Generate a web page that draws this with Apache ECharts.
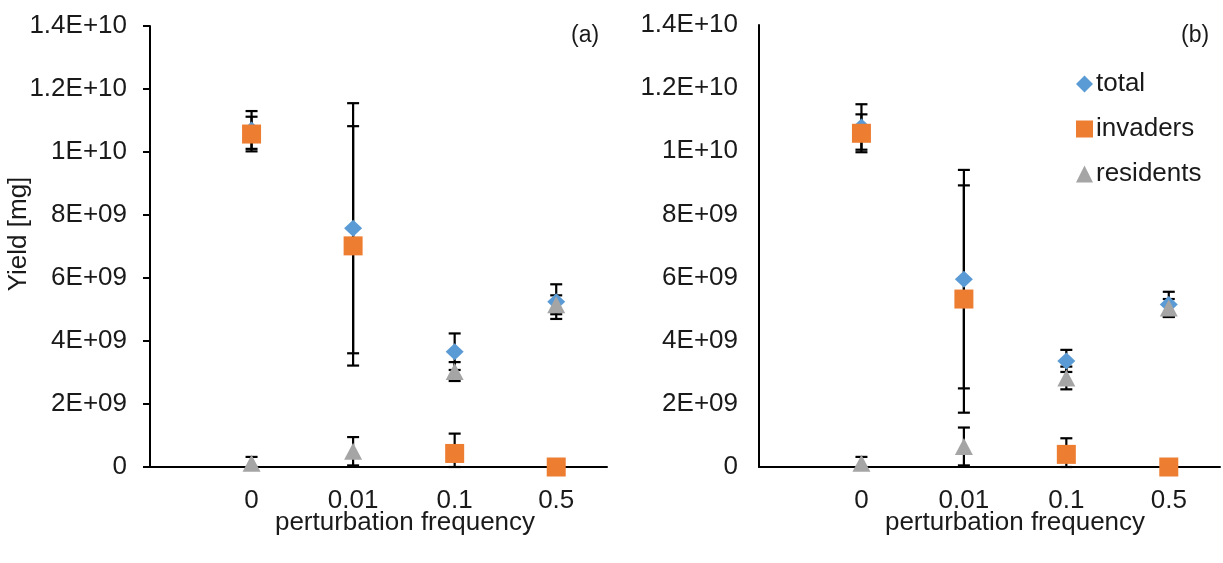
<!DOCTYPE html>
<html>
<head>
<meta charset="utf-8">
<script src="https://cdn.jsdelivr.net/npm/echarts@6/dist/echarts.min.js"></script>
<style>html,body{margin:0;padding:0;background:#fff}#c{width:1223px;height:563px}</style>
</head>
<body>
<div id="c"></div>
<script>
// ---- data ----
const categories = ['0', '0.01', '0.1', '0.5'];
const yTickLabels = ['0', '2E+09', '4E+09', '6E+09', '8E+09', '1E+10', '1.2E+10', '1.4E+10'];
const yStep = 2e9;

// panel (a)
const aTotal = [10.70e9, 7.58e9, 3.66e9, 5.25e9];
const aTotalErr = [0.60e9, 3.97e9, 0.58e9, 0.55e9];
const aInvaders = [10.57e9, 7.02e9, 0.43e9, 0];
const aInvadersErr = [0.55e9, 3.80e9, 0.63e9, 0];
const aResidents = [0.12e9, 0.50e9, 3.03e9, 5.15e9];
const aResidentsErr = [0.20e9, 0.45e9, 0.30e9, 0.30e9];

// panel (b)
const bTotal = [10.77e9, 5.95e9, 3.36e9, 5.15e9];
const bTotalErr = [0.72e9, 3.46e9, 0.35e9, 0.40e9];
const bInvaders = [10.57e9, 5.32e9, 0.40e9, 0];
const bInvadersErr = [0.60e9, 3.60e9, 0.51e9, 0];
const bResidents = [0.12e9, 0.65e9, 2.82e9, 5.04e9];
const bResidentsErr = [0.20e9, 0.60e9, 0.36e9, 0.28e9];

// ---- styling ----
const FONT = 'Liberation Sans';
const TXT = '#1a1a1a';
const BLUE = '#5B9BD5', ORANGE = '#ED7D31', GRAY = '#A5A5A5';
const FS = 26;

function pts(vals) { return vals.map((v, i) => [i + 1, v]); }
function errPts(vals, errs) { return vals.map((v, i) => [i + 1, v, errs[i]]); }

function errRender(params, api) {
  const x = api.value(0), y = api.value(1), e = api.value(2);
  if (!e) return null;
  const top = api.coord([x, y + e]);
  const bot = api.coord([x, Math.max(0, y - e)]);
  const hw = 6;
  const st = { stroke: '#000', lineWidth: 2.2 };
  return {
    type: 'group',
    children: [
      { type: 'line', shape: { x1: top[0], y1: top[1], x2: bot[0], y2: bot[1] }, style: st },
      { type: 'line', shape: { x1: top[0] - hw, y1: top[1], x2: top[0] + hw, y2: top[1] }, style: st },
      { type: 'line', shape: { x1: bot[0] - hw, y1: bot[1], x2: bot[0] + hw, y2: bot[1] }, style: st }
    ]
  };
}

function xAxisDef(gi) {
  return {
    type: 'value', gridIndex: gi, min: 0, max: 4.5, interval: 1,
    axisLine: { show: true, onZero: false, lineStyle: { color: '#000', width: 2 } },
    axisTick: { show: false },
    splitLine: { show: false },
    axisLabel: {
      margin: 21, fontFamily: FONT, fontSize: FS, color: TXT,
      showMinLabel: true, showMaxLabel: true,
      formatter: v => (Number.isInteger(v) && v >= 1 && v <= categories.length) ? categories[v - 1] : ''
    }
  };
}
function yAxisDef(gi, ticks) {
  return {
    type: 'value', gridIndex: gi, min: 0, max: 1.4e10, interval: yStep,
    axisLine: { show: true, lineStyle: { color: '#000', width: 2 } },
    axisTick: { show: ticks, length: 7, lineStyle: { color: '#000', width: 2 } },
    splitLine: { show: false },
    axisLabel: {
      margin: ticks ? 23 : 21, fontFamily: FONT, fontSize: FS, color: TXT,
      formatter: v => yTickLabels[Math.round(v / yStep)]
    }
  };
}

function panelSeries(gi, tot, totE, inv, invE, res, resE) {
  const base = { xAxisIndex: gi, yAxisIndex: gi };
  const err = (vals, errs) => Object.assign({
    type: 'custom', name: 'err', renderItem: errRender, data: errPts(vals, errs),
    encode: { x: 0, y: 1 }, z: 1, silent: true, clip: false
  }, base);
  return [
    err(tot, totE), err(inv, invE), err(res, resE),
    Object.assign({ type: 'scatter', name: 'total', symbol: 'diamond', symbolSize: [18, 17],
      itemStyle: { color: BLUE, opacity: 1 }, data: pts(tot), z: 3 }, base),
    Object.assign({ type: 'scatter', name: 'invaders', symbol: 'rect', symbolSize: [19, 19],
      itemStyle: { color: ORANGE, opacity: 1 }, data: pts(inv), z: 4 }, base),
    Object.assign({ type: 'scatter', name: 'residents', symbol: 'triangle', symbolSize: [18, 17],
      itemStyle: { color: GRAY, opacity: 1 }, data: pts(res), z: 5 }, base)
  ];
}

const chart = echarts.init(document.getElementById('c'), null, { renderer: 'canvas' });
chart.setOption({
  backgroundColor: '#fff',
  animation: false,
  grid: [
    { left: 150, right: 616, top: 26, bottom: 96 },
    { left: 759, right: 3, top: 25, bottom: 96 }
  ],
  xAxis: [xAxisDef(0), xAxisDef(1)],
  yAxis: [yAxisDef(0, true), yAxisDef(1, false)],
  legend: {
    data: ['total', 'invaders', 'residents'],
    orient: 'vertical', left: 1071, top: 66, itemGap: 19,
    itemWidth: 17, itemHeight: 17,
    textStyle: { fontFamily: FONT, fontSize: FS, color: TXT, padding: [0, 0, 0, -2] }
  },
  graphic: [
    { type: 'text', left: 571, top: 24, style: { text: '(a)', font: '23px "Liberation Sans"', fill: TXT } },
    { type: 'text', left: 1181, top: 24, style: { text: '(b)', font: '23px "Liberation Sans"', fill: TXT } },
    { type: 'text', x: 19, y: 234, rotation: Math.PI / 2,
      style: { text: 'Yield [mg]', font: FS + 'px "Liberation Sans"', fill: TXT, textAlign: 'center', textVerticalAlign: 'middle' } },
    { type: 'text', x: 405, y: 523,
      style: { text: 'perturbation frequency', font: FS + 'px "Liberation Sans"', fill: TXT, textAlign: 'center', textVerticalAlign: 'middle' } },
    { type: 'text', x: 1015, y: 523,
      style: { text: 'perturbation frequency', font: FS + 'px "Liberation Sans"', fill: TXT, textAlign: 'center', textVerticalAlign: 'middle' } }
  ],
  series: [].concat(
    panelSeries(0, aTotal, aTotalErr, aInvaders, aInvadersErr, aResidents, aResidentsErr),
    panelSeries(1, bTotal, bTotalErr, bInvaders, bInvadersErr, bResidents, bResidentsErr)
  )
});
</script>
</body>
</html>
